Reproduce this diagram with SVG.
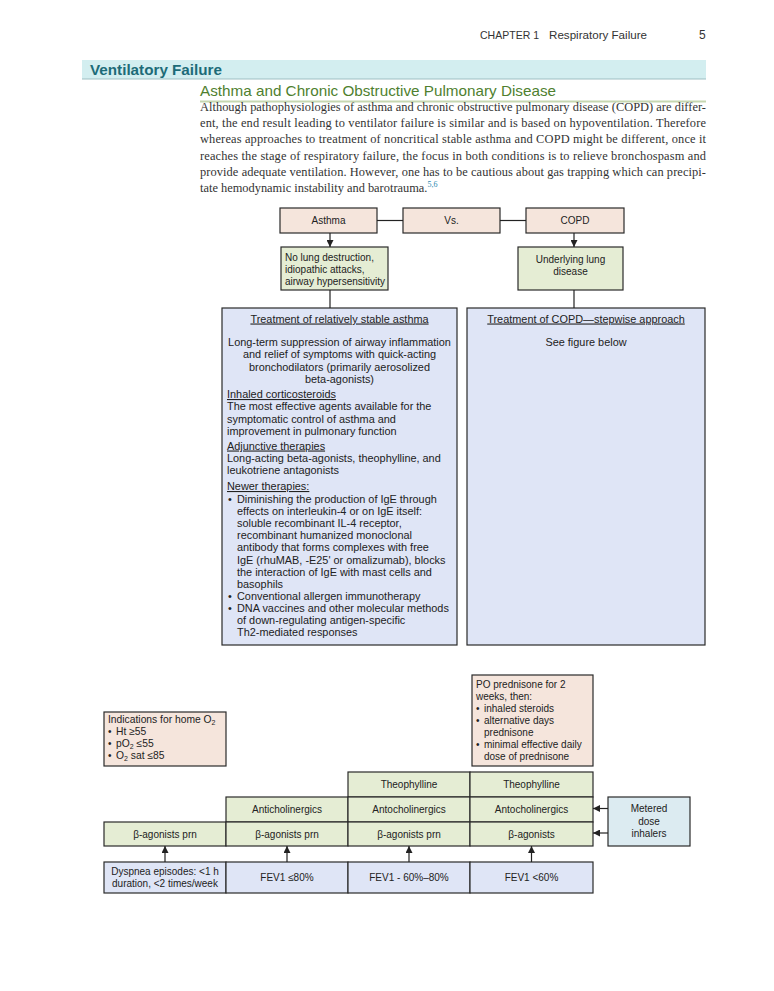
<svg xmlns="http://www.w3.org/2000/svg" width="774" height="991" viewBox="0 0 774 991">
<style>
.bx{stroke:#2a2a2a;stroke-width:1.2}
.pk{fill:#f5e5dc}.gr{fill:#e5edd4}.bl{fill:#dfe5f6}.cy{fill:#dcebf1}
.t{font-family:"Liberation Sans",Arial,sans-serif;font-size:10px;fill:#222}
.b{font-family:"Liberation Sans",Arial,sans-serif;font-size:10.9px;fill:#222}
.c{text-anchor:middle}
.u{text-decoration:underline}
.p{font-family:"Liberation Serif","Times New Roman",serif;font-size:12.4px;fill:#333}
.h{font-family:"Liberation Sans",Arial,sans-serif;font-size:11.5px;fill:#333}
.cn{stroke:#222;stroke-width:1.2;fill:none}
</style>
<defs>
<marker id="ah" viewBox="0 0 10 10" refX="10" refY="5" markerWidth="7" markerHeight="7" orient="auto" markerUnits="userSpaceOnUse"><path d="M0,0 L10,5 L0,10 z" fill="#222"/></marker>
</defs>
<rect width="774" height="991" fill="#ffffff"/>
<g id="header">
<text class="h" x="480" y="39" textLength="59" lengthAdjust="spacingAndGlyphs">CHAPTER 1</text>
<text class="h" x="549" y="39" textLength="98" lengthAdjust="spacingAndGlyphs">Respiratory Failure</text>
<text class="h" x="699" y="39" style="font-size:12px">5</text>
<rect x="82" y="60" width="624" height="19" fill="#d3eef0"/>
<line x1="82" y1="79" x2="706" y2="79" stroke="#9dbfc3" stroke-width="1"/>
<text x="90" y="75" textLength="132" lengthAdjust="spacingAndGlyphs" style="font-family:'Liberation Sans',Arial,sans-serif;font-size:15px;font-weight:bold;fill:#1d6b78">Ventilatory Failure</text>
<text x="200" y="96" textLength="356" lengthAdjust="spacingAndGlyphs" style="font-family:'Liberation Sans',Arial,sans-serif;font-size:15px;fill:#4f7f2f">Asthma and Chronic Obstructive Pulmonary Disease</text>
<line x1="200" y1="101.5" x2="706" y2="101.5" stroke="#c6d7b1" stroke-width="2"/>
<text class="p" x="200" y="111" textLength="506" lengthAdjust="spacing">Although pathophysiologies of asthma and chronic obstructive pulmonary disease (COPD) are differ-</text>
<text class="p" x="200" y="127.2" textLength="506" lengthAdjust="spacing">ent, the end result leading to ventilator failure is similar and is based on hypoventilation. Therefore</text>
<text class="p" x="200" y="143.4" textLength="506" lengthAdjust="spacing">whereas approaches to treatment of noncritical stable asthma and COPD might be different, once it</text>
<text class="p" x="200" y="159.6" textLength="506" lengthAdjust="spacing">reaches the stage of respiratory failure, the focus in both conditions is to relieve bronchospasm and</text>
<text class="p" x="200" y="175.8" textLength="506" lengthAdjust="spacing">provide adequate ventilation. However, one has to be cautious about gas trapping which can precipi-</text>
<text class="p" x="200" y="192">tate hemodynamic instability and barotrauma.<tspan dy="-5" style="font-size:8px;fill:#2a8ab0">5,6</tspan></text>
</g>
<g id="asthma"><rect class="bx pk" x="280" y="208" width="97" height="25"/><text class="t c" x="328.5" y="224">Asthma</text></g>
<g id="vs"><rect class="bx pk" x="403" y="208" width="97" height="25"/><text class="t c" x="451.5" y="224">Vs.</text></g>
<g id="copd"><rect class="bx pk" x="526" y="208" width="98" height="25"/><text class="t c" x="575" y="224">COPD</text></g>
<g id="asthma-features"><rect class="bx gr" x="281" y="247" width="107" height="43"/>
<text class="t" x="285" y="261">No lung destruction,</text><text class="t" x="285" y="273">idiopathic attacks,</text><text class="t" x="285" y="285">airway hypersensitivity</text></g>
<g id="copd-features"><rect class="bx gr" x="518" y="247" width="105" height="43"/>
<text class="t c" x="570.5" y="263">Underlying lung</text><text class="t c" x="570.5" y="275">disease</text></g>
<g id="asthma-treatment"><rect class="bx bl" x="222" y="308" width="235" height="337"/>
<text class="b c u" x="339.5" y="322.5">Treatment of relatively stable asthma</text>
<text class="b c" x="339.5" y="346">Long-term suppression of airway inflammation</text>
<text class="b c" x="339.5" y="358.4">and relief of symptoms with quick-acting</text>
<text class="b c" x="339.5" y="370.8">bronchodilators (primarily aerosolized</text>
<text class="b c" x="339.5" y="383.2">beta-agonists)</text>
<text class="b u" x="227" y="398">Inhaled corticosteroids</text>
<text class="b" x="227" y="410.4">The most effective agents available for the</text>
<text class="b" x="227" y="422.8">symptomatic control of asthma and</text>
<text class="b" x="227" y="435.2">improvement in pulmonary function</text>
<text class="b u" x="227" y="449.5">Adjunctive therapies</text>
<text class="b" x="227" y="461.9">Long-acting beta-agonists, theophylline, and</text>
<text class="b" x="227" y="474.3">leukotriene antagonists</text>
<text class="b u" x="227" y="490">Newer therapies:</text>
<text class="b" x="228" y="503">•</text><text class="b" x="237" y="503">Diminishing the production of IgE through</text>
<text class="b" x="237" y="515.1">effects on interleukin-4 or on IgE itself:</text>
<text class="b" x="237" y="527.2">soluble recombinant IL-4 receptor,</text>
<text class="b" x="237" y="539.3">recombinant humanized monoclonal</text>
<text class="b" x="237" y="551.4">antibody that forms complexes with free</text>
<text class="b" x="237" y="563.5">IgE (rhuMAB, -E25' or omalizumab), blocks</text>
<text class="b" x="237" y="575.6">the interaction of IgE with mast cells and</text>
<text class="b" x="237" y="587.7">basophils</text>
<text class="b" x="228" y="599.8">•</text><text class="b" x="237" y="599.8">Conventional allergen immunotherapy</text>
<text class="b" x="228" y="611.9">•</text><text class="b" x="237" y="611.9">DNA vaccines and other molecular methods</text>
<text class="b" x="237" y="624">of down-regulating antigen-specific</text>
<text class="b" x="237" y="636.1">Th2-mediated responses</text>
</g>
<g id="copd-treatment"><rect class="bx bl" x="467" y="308" width="238" height="337"/>
<text class="b c u" x="586" y="322.5">Treatment of COPD—stepwise approach</text>
<text class="b c" x="586" y="346">See figure below</text></g>
<g id="home-o2"><rect class="bx pk" x="104" y="712" width="122" height="54"/>
<text class="t" x="108" y="723" style="font-size:10.3px">Indications for home O<tspan dy="2" style="font-size:7px">2</tspan></text>
<text class="t" x="108" y="735">•</text><text class="t" x="116" y="735" style="font-size:10.3px">Ht ≥55</text>
<text class="t" x="108" y="747">•</text><text class="t" x="116" y="747" style="font-size:10.3px">pO<tspan dy="2" style="font-size:7px">2</tspan><tspan dy="-2"> ≤55</tspan></text>
<text class="t" x="108" y="759">•</text><text class="t" x="116" y="759" style="font-size:10.3px">O<tspan dy="2" style="font-size:7px">2</tspan><tspan dy="-2"> sat ≤85</tspan></text></g>
<g id="prednisone"><rect class="bx pk" x="472" y="675" width="121" height="91"/>
<text class="t" x="476" y="688">PO prednisone for 2</text>
<text class="t" x="476" y="700">weeks, then:</text>
<text class="t" x="476" y="712">•</text><text class="t" x="484" y="712">inhaled steroids</text>
<text class="t" x="476" y="724">•</text><text class="t" x="484" y="724">alternative days</text>
<text class="t" x="484" y="736">prednisone</text>
<text class="t" x="476" y="748">•</text><text class="t" x="484" y="748">minimal effective daily</text>
<text class="t" x="484" y="760">dose of prednisone</text></g>
<g id="theophylline-3"><rect class="bx gr" x="348" y="772" width="122" height="25"/><text class="t c" x="409" y="788">Theophylline</text></g>
<g id="theophylline-4"><rect class="bx gr" x="470" y="772" width="123" height="25"/><text class="t c" x="531.5" y="788">Theophylline</text></g>
<g id="anticholinergics-2"><rect class="bx gr" x="226" y="797" width="122" height="25"/><text class="t c" x="287" y="813">Anticholinergics</text></g>
<g id="anticholinergics-3"><rect class="bx gr" x="348" y="797" width="122" height="25"/><text class="t c" x="409" y="813">Antocholinergics</text></g>
<g id="anticholinergics-4"><rect class="bx gr" x="470" y="797" width="123" height="25"/><text class="t c" x="531.5" y="813">Antocholinergics</text></g>
<g id="beta-1"><rect class="bx gr" x="104" y="822" width="122" height="24"/><text class="t c" x="165" y="838">β-agonists prn</text></g>
<g id="beta-2"><rect class="bx gr" x="226" y="822" width="122" height="24"/><text class="t c" x="287" y="838">β-agonists prn</text></g>
<g id="beta-3"><rect class="bx gr" x="348" y="822" width="122" height="24"/><text class="t c" x="409" y="838">β-agonists prn</text></g>
<g id="beta-4"><rect class="bx gr" x="470" y="822" width="123" height="24"/><text class="t c" x="531.5" y="838">β-agonists</text></g>
<g id="metered"><rect class="bx cy" x="608" y="797" width="82" height="49"/>
<text class="t c" x="649" y="812">Metered</text><text class="t c" x="649" y="824.5">dose</text><text class="t c" x="649" y="837">inhalers</text></g>
<g id="stage-1"><rect class="bx bl" x="104" y="862" width="122" height="31"/>
<text class="t c" x="165" y="875">Dyspnea episodes: &lt;1 h</text><text class="t c" x="165" y="887">duration, &lt;2 times/week</text></g>
<g id="stage-2"><rect class="bx bl" x="226" y="862" width="122" height="31"/><text class="t c" x="287" y="881">FEV1 ≤80%</text></g>
<g id="stage-3"><rect class="bx bl" x="348" y="862" width="122" height="31"/><text class="t c" x="409" y="881">FEV1 - 60%–80%</text></g>
<g id="stage-4"><rect class="bx bl" x="470" y="862" width="123" height="31"/><text class="t c" x="531.5" y="881">FEV1 &lt;60%</text></g>
<g id="connectors">
<line class="cn" x1="377" y1="220.5" x2="403" y2="220.5"/>
<line class="cn" x1="500" y1="220.5" x2="526" y2="220.5"/>
<line class="cn" x1="330" y1="233" x2="330" y2="247" marker-end="url(#ah)"/>
<line class="cn" x1="574" y1="233" x2="574" y2="247" marker-end="url(#ah)"/>
<line class="cn" x1="330" y1="290" x2="330" y2="308"/>
<line class="cn" x1="574" y1="290" x2="574" y2="308"/>
<line class="cn" x1="165" y1="862" x2="165" y2="846" marker-end="url(#ah)"/>
<line class="cn" x1="287" y1="862" x2="287" y2="846" marker-end="url(#ah)"/>
<line class="cn" x1="409" y1="862" x2="409" y2="846" marker-end="url(#ah)"/>
<line class="cn" x1="531.5" y1="862" x2="531.5" y2="846" marker-end="url(#ah)"/>
<line class="cn" x1="608" y1="808.5" x2="593" y2="808.5" marker-end="url(#ah)"/>
<line class="cn" x1="608" y1="833" x2="593" y2="833" marker-end="url(#ah)"/>
</g>
</svg>
